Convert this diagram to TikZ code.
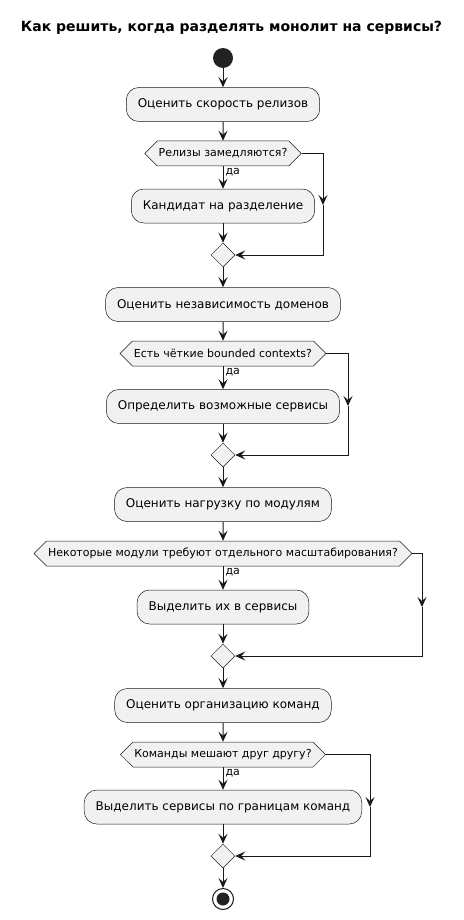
\documentclass[tikz,border=0pt]{standalone}
\usepackage{fontspec}
\setmainfont{DejaVu Sans}
\usetikzlibrary{shapes.geometric,shapes.symbols,arrows.meta}
\definecolor{umlfill}{HTML}{F1F1F1}
\definecolor{umlline}{HTML}{181818}
\definecolor{umldot}{HTML}{222222}
\tikzset{
  action/.style={rectangle, rounded corners=12.5pt, draw=umlline, line width=0.5pt, fill=umlfill,
    minimum height=34pt, inner xsep=11.5pt, inner ysep=0pt, font=\fontsize{12}{14}\selectfont},
  decision/.style={signal, signal to=west and east, signal pointer angle=90, draw=umlline, line width=0.5pt,
    fill=umlfill, minimum height=25pt, inner xsep=1.5pt, inner ysep=0pt, font=\fontsize{11}{13}\selectfont},
  merge/.style={diamond, draw=umlline, line width=0.5pt, fill=umlfill, minimum width=24pt, minimum height=24pt, inner sep=0pt},
  arr/.style={draw=umlline, line width=1pt, -{Stealth[length=10pt,width=9pt,inset=4pt]}},
  yes/.style={right, font=\fontsize{11}{13}\selectfont, inner sep=2pt, pos=0.27},
  startdot/.style={circle, fill=umldot, minimum size=20pt, inner sep=0pt},
}
\begin{document}
\begin{tikzpicture}[x=1pt,y=-1pt]
\useasboundingbox (0,0) rectangle (463,920);
\node[font=\bfseries\fontsize{14}{16}\selectfont] (title) at (231.5,28) {Как решить, когда разделять монолит на сервисы?};
\node[startdot] (start) at (223,58) {};
\node[action] (a1) at (223,104.5) {Оценить скорость релизов};
\node[decision] (d1) at (223,153.5) {Релизы замедляются?};
\node[action] (a2) at (223,206) {Кандидат на разделение};
\node[merge] (m1) at (223,255) {};
\node[action] (a3) at (223,304.5) {Оценить независимость доменов};
\node[decision] (d2) at (223,353.5) {Есть чёткие bounded contexts?};
\node[action] (a4) at (223,406.5) {Определить возможные сервисы};
\node[merge] (m2) at (223,455) {};
\node[action] (a5) at (223,504.5) {Оценить нагрузку по модулям};
\node[decision] (d3) at (223,553.5) {Некоторые модули требуют отдельного масштабирования?};
\node[action] (a6) at (223,607) {Выделить их в сервисы};
\node[merge] (m3) at (223,656) {};
\node[action] (a7) at (223,705.5) {Оценить организацию команд};
\node[decision] (d4) at (223,754.5) {Команды мешают друг другу?};
\node[action] (a8) at (223,807) {Выделить сервисы по границам команд};
\node[merge] (m4) at (223,856) {};
\node[circle, draw=umlline, line width=1pt, fill=white, minimum size=21pt, inner sep=0pt] (end) at (223,899) {};
\node[circle, fill=umldot, minimum size=13pt, inner sep=0pt] (endin) at (end.center) {};
\coordinate (r1) at (323,205);
\coordinate (r2) at (348,406);
\coordinate (r3) at (422,607);
\coordinate (r4) at (370,807);
\draw[arr] (start) -- (a1);
\draw[arr] (a1) -- (d1);
\draw[arr] (d1.south) -- node[yes]{да} (a2.north);
\draw[arr] (a2) -- (m1);
\draw[arr] (d1.east) -| (r1);
\draw[arr] (r1) |- (m1.east);
\draw[arr] (m1) -- (a3);
\draw[arr] (a3) -- (d2);
\draw[arr] (d2.south) -- node[yes]{да} (a4.north);
\draw[arr] (a4) -- (m2);
\draw[arr] (d2.east) -| (r2);
\draw[arr] (r2) |- (m2.east);
\draw[arr] (m2) -- (a5);
\draw[arr] (a5) -- (d3);
\draw[arr] (d3.south) -- node[yes]{да} (a6.north);
\draw[arr] (a6) -- (m3);
\draw[arr] (d3.east) -| (r3);
\draw[arr] (r3) |- (m3.east);
\draw[arr] (m3) -- (a7);
\draw[arr] (a7) -- (d4);
\draw[arr] (d4.south) -- node[yes]{да} (a8.north);
\draw[arr] (a8) -- (m4);
\draw[arr] (d4.east) -| (r4);
\draw[arr] (r4) |- (m4.east);
\draw[arr] (m4) -- (end);
\end{tikzpicture}
\end{document}
